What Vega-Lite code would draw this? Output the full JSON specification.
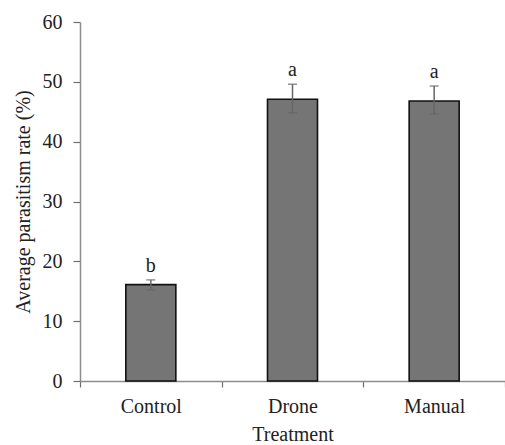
{
  "$schema": "https://vega.github.io/schema/vega-lite/v6.json",
  "autosize": "none",
  "padding": {"left": 80, "top": 22, "right": 0, "bottom": 64},
  "width": 425,
  "height": 359,
  "background": "white",
  "config": {
    "font": "Liberation Serif",
    "view": {"stroke": null},
    "axis": {
      "domainColor": "#8c8c8c",
      "domainWidth": 1.5,
      "tickColor": "#6e6e6e",
      "tickWidth": 1.2,
      "grid": false,
      "labelFont": "Liberation Serif",
      "titleFont": "Liberation Serif",
      "labelFontSize": 20,
      "titleFontSize": 20,
      "labelColor": "#222",
      "titleColor": "#222",
      "titleFontWeight": "normal"
    }
  },
  "data": {
    "values": [
      {"treatment": "Control", "mean": 16.1, "lo": 15.2, "hi": 16.9, "letter": "b"},
      {"treatment": "Drone", "mean": 47.1, "lo": 44.8, "hi": 49.6, "letter": "a"},
      {"treatment": "Manual", "mean": 46.8, "lo": 44.6, "hi": 49.3, "letter": "a"}
    ]
  },
  "encoding": {
    "x": {
      "field": "treatment",
      "type": "nominal",
      "sort": null,
      "scale": {"paddingInner": 0, "paddingOuter": 0},
      "axis": {
        "title": "Treatment",
        "labelAngle": 0,
        "tickBand": "extent",
        "tickSize": 6,
        "labelPadding": 9,
        "titlePadding": 8
      }
    }
  },
  "layer": [
    {
      "mark": {"type": "bar", "size": 50, "fill": "#757575", "stroke": "#111", "strokeWidth": 1.6},
      "encoding": {
        "y": {
          "field": "mean",
          "type": "quantitative",
          "scale": {"domain": [0, 60]},
          "axis": {
            "title": "Average parasitism rate (%)",
            "values": [0, 10, 20, 30, 40, 50, 60],
            "tickSize": 7,
            "labelPadding": 11,
            "titlePadding": 9
          }
        }
      }
    },
    {
      "mark": {"type": "rule", "color": "#666", "strokeWidth": 1.5},
      "encoding": {
        "y": {"field": "lo", "type": "quantitative"},
        "y2": {"field": "hi"}
      }
    },
    {
      "mark": {"type": "tick", "color": "#666", "size": 9, "thickness": 1.5},
      "encoding": {"y": {"field": "lo", "type": "quantitative"}}
    },
    {
      "mark": {"type": "tick", "color": "#666", "size": 9, "thickness": 1.5},
      "encoding": {"y": {"field": "hi", "type": "quantitative"}}
    },
    {
      "mark": {"type": "text", "font": "Liberation Serif", "fontSize": 20, "color": "#222", "baseline": "alphabetic", "dy": -8},
      "encoding": {
        "y": {"field": "hi", "type": "quantitative"},
        "text": {"field": "letter"}
      }
    }
  ]
}
